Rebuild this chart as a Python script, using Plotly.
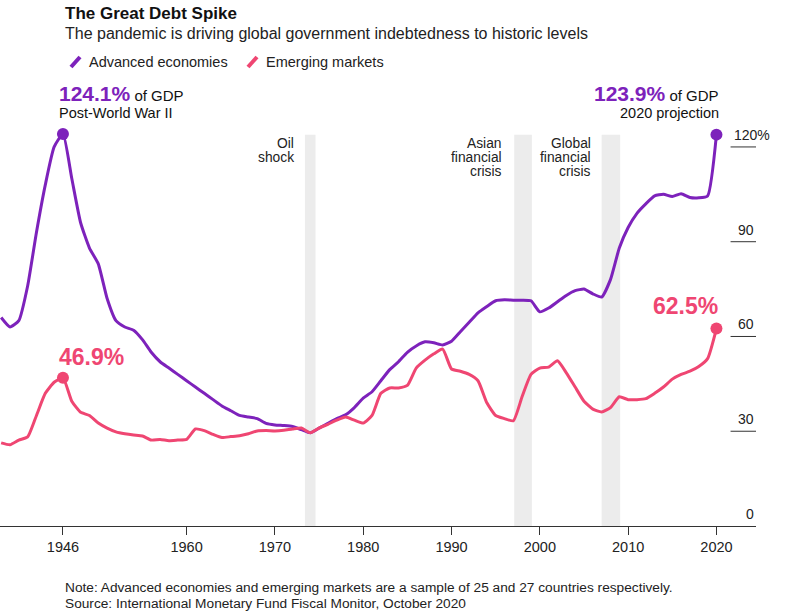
import plotly.graph_objects as go

# ---------------- data ----------------
years = list(range(1939, 2021))
advanced = [66, 63, 65, 76, 93, 108, 120, 124.1, 110, 96,
            88, 83, 72, 65, 63, 62, 59, 55, 52, 50,
            48, 46, 44, 42, 40, 38, 36.5, 35, 34.5, 34,
            32.5, 32, 31.8, 31.5, 30.5, 29.5, 31, 32.5, 34, 35.2,
            37.5, 40.5, 42.5, 46, 49.5, 52, 55, 57, 58.3, 58,
            57.3, 58.5, 61.5, 64.5, 67.5, 69.5, 71.3, 71.6, 71.5, 71.5,
            71.3, 67.8, 69, 71, 73, 74.5, 75, 73.5, 72.5, 78,
            88, 94.5, 99, 102, 104.5, 105, 104.3, 105.2, 104, 103.9,
            104.5, 123.9]
emerging = [26.3, 25.7, 27.2, 28.2, 35, 42, 45.5, 46.9, 39.5, 36,
            35, 32.6, 31, 29.8, 29.2, 28.8, 28.5, 27.2, 27.4, 27.0,
            27.2, 27.4, 30.7, 30.2, 29, 28, 28.3, 28.6, 29.2, 30.1,
            30.2, 30.1, 30.3, 30.7, 31.0, 29.5, 31, 32.2, 33.5, 34.5,
            33.5, 32.6, 35, 42, 43.7, 43.7, 44.5, 50, 52.5, 54.5,
            56, 49.7, 49, 48, 46, 39, 35, 34, 33.3, 41,
            48, 50, 50.3, 52.3, 48.5, 44, 39.5, 37, 36.1, 37.5,
            40.9, 40, 40, 40.3, 42, 44, 46.5, 48, 49, 50.5,
            53, 62.5]
highlight_years = [1946, 2020]
adv_highlight = [124.1, 123.9]
em_highlight = [46.9, 62.5]

crises = [("Oil shock", 1973.4, 1974.6), ("Asian financial crisis", 1997.1, 1999.1),
          ("Global financial crisis", 2007.0, 2009.1)]
xtick_vals = [1946, 1960, 1970, 1980, 1990, 2000, 2010, 2020]
ytick_vals = [0, 30, 60, 90, 120]
ytick_text = ["0", "30", "60", "90", "120%"]

PURPLE = "#7d22bb"
PINK = "#ef4672"
FONT = "Liberation Sans, Arial, sans-serif"

# pixel -> paper helpers (plot area: x 0..756, y 128..526)
PL, PR, PT, PB = 0, 756, 128, 526
def px(x):
    return (x - PL) / (PR - PL)
def py(y):
    return (PB - y) / (PB - PT)

fig = go.Figure()
fig.add_trace(go.Scatter(x=years, y=advanced, mode="lines", name="Advanced economies",
                         line=dict(color=PURPLE, width=3, shape="spline", smoothing=0.5),
                         cliponaxis=False))
fig.add_trace(go.Scatter(x=years, y=emerging, mode="lines", name="Emerging markets",
                         line=dict(color=PINK, width=3, shape="spline", smoothing=0.5),
                         cliponaxis=False))
fig.add_trace(go.Scatter(x=highlight_years, y=adv_highlight, mode="markers",
                         marker=dict(color=PURPLE, size=12), cliponaxis=False, showlegend=False))
fig.add_trace(go.Scatter(x=highlight_years, y=em_highlight, mode="markers",
                         marker=dict(color=PINK, size=12), cliponaxis=False, showlegend=False))

shapes = []
for name, a, b in crises:
    shapes.append(dict(type="rect", xref="x", yref="y", x0=a, x1=b, y0=0, y1=123.9,
                       fillcolor="#ececec", line=dict(width=0), layer="below"))
for v in ytick_vals[1:]:
    shapes.append(dict(type="line", xref="x", yref="y", x0=2021.6, x1=2024.5, y0=v, y1=v,
                       line=dict(color="#333333", width=1)))
# legend icons
shapes.append(dict(type="line", xref="paper", yref="paper", x0=px(71), x1=px(80), y0=py(67), y1=py(57),
                   line=dict(color=PURPLE, width=4)))
shapes.append(dict(type="line", xref="paper", yref="paper", x0=px(248), x1=px(257), y0=py(67), y1=py(57),
                   line=dict(color=PINK, width=4)))

ann = []
def text(x, y, s, size=14, color="#111111", xanchor="left", family=FONT, yanchor="middle"):
    ann.append(dict(xref="paper", yref="paper", x=px(x), y=py(y), text=s, showarrow=False,
                    xanchor=xanchor, yanchor=yanchor, font=dict(size=size, color=color, family=family),
                    align=xanchor if xanchor != "center" else "center"))

text(63, 14, "<b>The Great Debt Spike</b>", size=17)
text(63, 34, "The pandemic is driving global government indebtedness to historic levels", size=16, color="#222222")
text(87, 62, "Advanced economies", size=14.5, color="#222222")
text(264, 62, "Emerging markets", size=14.5, color="#222222")

text(57, 94, f"<b><span style='color:{PURPLE};font-size:21px'>{adv_highlight[0]}%</span></b> of GDP", size=15)
text(57, 113, "Post-World War II", size=14.5)
text(721, 94, f"<b><span style='color:{PURPLE};font-size:21px'>{adv_highlight[1]}%</span></b> of GDP", size=15, xanchor="right")
text(721, 113, "2020 projection", size=14.5, xanchor="right")
text(57, 357, f"<b>{em_highlight[0]}%</b>", size=23, color=PINK)
text(720, 306, f"<b>{em_highlight[1]}%</b>", size=23, color=PINK, xanchor="right")

# crisis labels, one line each
label_right = {"Oil shock": 296, "Asian financial crisis": 504, "Global financial crisis": 593}
label_lines = {"Oil shock": ["Oil", "shock"], "Asian financial crisis": ["Asian", "financial", "crisis"],
               "Global financial crisis": ["Global", "financial", "crisis"]}
for name, a, b in crises:
    for i, line in enumerate(label_lines[name]):
        text(label_right[name], 143 + 14 * i, line, size=13.8, color="#222222", xanchor="right")

# y tick labels
for v, t in zip(ytick_vals, ytick_text):
    if t.endswith("%"):
        ann.append(dict(xref="paper", yref="y", x=px(732), y=v, text=t, showarrow=False,
                        xanchor="left", yanchor="bottom", yshift=2,
                        font=dict(size=14, color="#222222", family=FONT)))
    else:
        ann.append(dict(xref="paper", yref="y", x=px(756), y=v, text=t, showarrow=False,
                        xanchor="right", yanchor="bottom", yshift=2,
                        font=dict(size=14, color="#222222", family=FONT)))

text(63, 587, "Note: Advanced economies and emerging markets are a sample of 25 and 27 countries respectively.",
     size=13.7, color="#222222")
text(63, 603, "Source: International Monetary Fund Fiscal Monitor, October 2020",
     size=13.7, color="#222222")

fig.update_layout(
    width=800, height=616,
    margin=dict(l=PL, r=800 - PR, t=PT, b=616 - PB),
    paper_bgcolor="white", plot_bgcolor="white",
    showlegend=False,
    shapes=shapes, annotations=ann,
    font=dict(family=FONT, color="#222222"),
    xaxis=dict(range=[1938.87, 2024.48], tickvals=xtick_vals, ticks="outside", ticklen=8,
               tickcolor="#333333", showline=True, linecolor="#333333", linewidth=1,
               showgrid=False, zeroline=False,
               tickfont=dict(family=FONT, size=14.5, color="#222222"), fixedrange=True),
    yaxis=dict(range=[0, 126], showgrid=False, zeroline=False, showticklabels=False,
               showline=False, fixedrange=True),
)

fig.write_html("out.html", config={"displayModeBar": False},
               post_script="document.body.style.margin='0';document.body.style.overflow='hidden';")
